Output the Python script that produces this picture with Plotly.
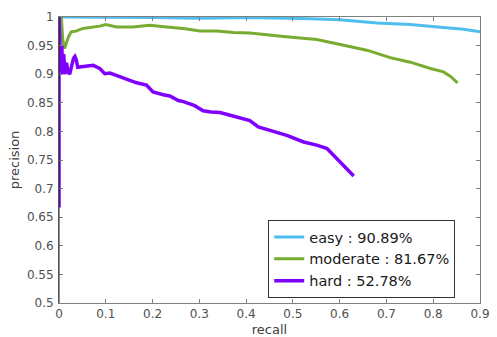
import plotly.graph_objects as go

# ---- data ----
easy_recall = [0, 0.08, 0.1, 0.2, 0.3, 0.408, 0.537, 0.6, 0.68, 0.751, 0.822, 0.865, 0.9]
easy_precision = [1.0, 1.0, 0.999, 0.999, 0.998, 0.999, 0.997, 0.995, 0.9895, 0.987, 0.9815, 0.9785, 0.974]

moderate_recall = [0, 0.005, 0.008, 0.012, 0.016, 0.02, 0.026, 0.035, 0.051, 0.07, 0.087, 0.1,
                   0.123, 0.158, 0.194, 0.23, 0.266, 0.301, 0.337, 0.373, 0.408, 0.48, 0.551,
                   0.601, 0.658, 0.708, 0.751, 0.794, 0.822, 0.837, 0.852]
moderate_precision = [1.0, 1.0, 0.96, 0.945, 0.955, 0.965, 0.974, 0.975, 0.98, 0.982, 0.984, 0.987,
                      0.9825, 0.9825, 0.9855, 0.9825, 0.98, 0.9755, 0.9755, 0.973, 0.972, 0.966, 0.9605,
                      0.952, 0.942, 0.929, 0.921, 0.91, 0.904, 0.896, 0.885]

hard_recall = [0, 0, 0.002, 0.004, 0.006, 0.008, 0.010, 0.013, 0.016, 0.019, 0.023, 0.027, 0.031,
               0.034, 0.037, 0.040, 0.05, 0.066, 0.073, 0.087, 0.098, 0.109, 0.123, 0.144, 0.166,
               0.187, 0.201, 0.223, 0.237, 0.255, 0.266, 0.29, 0.308, 0.325, 0.344, 0.362, 0.38,
               0.408, 0.426, 0.451, 0.487, 0.523, 0.551, 0.573, 0.594, 0.612, 0.63]
hard_precision = [0.667, 1.0, 0.955, 0.905, 0.95, 0.90, 0.935, 0.90, 0.92, 0.905, 0.90, 0.915, 0.928,
                  0.931, 0.925, 0.912, 0.913, 0.914, 0.9155, 0.91, 0.901, 0.902, 0.898, 0.8905, 0.885,
                  0.881, 0.869, 0.864, 0.862, 0.854, 0.852, 0.845, 0.836, 0.834, 0.833, 0.829, 0.825,
                  0.819, 0.808, 0.802, 0.793, 0.7815, 0.776, 0.770, 0.752, 0.738, 0.722]

series_names = ["easy : 90.89%", "moderate : 81.67%", "hard : 52.78%"]
series_colors = ["#4DBEEE", "#77AC30", "#7F00FF"]

x_ticks = [0, 0.1, 0.2, 0.3, 0.4, 0.5, 0.6, 0.7, 0.8, 0.9]
y_ticks = [0.5, 0.55, 0.6, 0.65, 0.7, 0.75, 0.8, 0.85, 0.9, 0.95, 1]
y_ticklabels = ["0.5", "0.55", "0.6", "0.65", "0.7", "0.75", "0.8", "0.85", "0.9", "0.95", "1"]

fig = go.Figure()
for xs, ys, name, col, w in [
    (easy_recall, easy_precision, series_names[0], series_colors[0], 3),
    (moderate_recall, moderate_precision, series_names[1], series_colors[1], 3),
    (hard_recall, hard_precision, series_names[2], series_colors[2], 3.5),
]:
    fig.add_trace(go.Scatter(x=xs, y=ys, mode="lines", name=name,
                             line=dict(color=col, width=w)))

font_family = "DejaVu Sans, sans-serif"
fig.update_layout(
    width=497, height=337,
    margin=dict(l=59, r=17, t=17, b=34),
    paper_bgcolor="white", plot_bgcolor="white",
    font=dict(family=font_family, color="#404040", size=12),
    showlegend=True,
    legend=dict(
        x=0.497, y=0.29, xanchor="left", yanchor="top",
        bgcolor="white", bordercolor="#333333", borderwidth=1,
        font=dict(family=font_family, size=14.5, color="#1a1a1a"),
        tracegroupgap=0, itemwidth=30,
    ),
)
fig.update_xaxes(
    range=[0, 0.9], tickvals=x_ticks, ticks="inside", ticklen=4, tickcolor="#808080",
    showline=True, linecolor="#808080", linewidth=1, mirror="ticks",
    showgrid=False, zeroline=False, ticklabelstandoff=0, automargin=False,
    title=dict(text="recall", standoff=8, font=dict(size=13, color="#404040")),
    tickfont=dict(size=12, color="#505050"),
)
fig.update_yaxes(
    range=[0.5, 1.0], tickvals=y_ticks, ticktext=y_ticklabels, ticks="inside", ticklen=4,
    tickcolor="#808080",
    showline=True, linecolor="#808080", linewidth=1, mirror="ticks",
    showgrid=False, zeroline=False, ticklabelstandoff=2, automargin=False,
    title=dict(text="precision", standoff=4, font=dict(size=13, color="#404040")),
    tickfont=dict(size=12, color="#505050"),
)
# darker left axis line
fig.add_shape(type="line", xref="paper", yref="paper", x0=0, x1=0, y0=0, y1=1,
              line=dict(color="#262626", width=1), layer="above")

fig.write_html("out.html")
